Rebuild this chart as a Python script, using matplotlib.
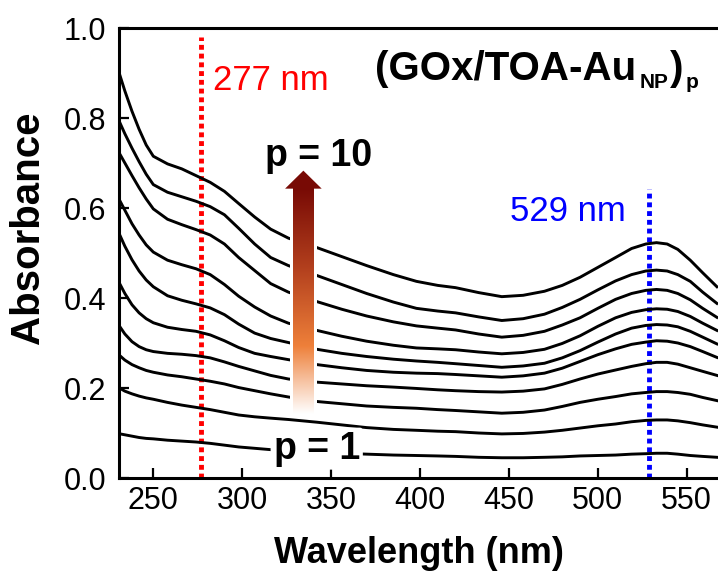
import numpy as np
import matplotlib.pyplot as plt
from matplotlib.colors import LinearSegmentedColormap
from matplotlib.patches import Rectangle, Polygon

plt.rcParams['font.family'] = 'Liberation Sans'

# UV-vis spectra of the (GOx/TOA-AuNP)p multilayers, p = 1 ... 10
wavelength = [230, 234, 238, 242, 246, 250, 258, 266, 274, 282, 290, 298, 307, 316, 326,
              342, 356, 370, 385, 398, 410, 420, 433, 446, 458, 470, 480, 490, 500, 510,
              519, 527, 533, 539, 545, 552, 559, 567]

p1 = [0.099, 0.096, 0.093, 0.090, 0.088, 0.087, 0.084, 0.082, 0.080, 0.077, 0.073, 0.069, 0.066, 0.063, 0.061,
      0.057, 0.055, 0.053, 0.051, 0.050, 0.049, 0.048, 0.046, 0.045, 0.045, 0.046, 0.047, 0.049, 0.050, 0.051,
      0.053, 0.054, 0.055, 0.055, 0.053, 0.050, 0.048, 0.046]
p2 = [0.202, 0.193, 0.187, 0.182, 0.178, 0.175, 0.168, 0.162, 0.157, 0.152, 0.146, 0.140, 0.136, 0.133, 0.130,
      0.124, 0.118, 0.112, 0.108, 0.106, 0.104, 0.103, 0.100, 0.098, 0.099, 0.102, 0.106, 0.111, 0.116, 0.120,
      0.125, 0.128, 0.129, 0.129, 0.127, 0.123, 0.118, 0.113]
p3 = [0.276, 0.262, 0.252, 0.245, 0.239, 0.235, 0.229, 0.225, 0.220, 0.215, 0.209, 0.201, 0.194, 0.187, 0.180,
      0.170, 0.165, 0.160, 0.157, 0.155, 0.152, 0.150, 0.147, 0.144, 0.146, 0.151, 0.159, 0.168, 0.175, 0.181,
      0.187, 0.190, 0.192, 0.192, 0.190, 0.186, 0.179, 0.172]
p4 = [0.343, 0.320, 0.303, 0.292, 0.285, 0.281, 0.277, 0.275, 0.272, 0.267, 0.258, 0.248, 0.238, 0.228, 0.220,
      0.213, 0.209, 0.205, 0.202, 0.199, 0.196, 0.194, 0.192, 0.191, 0.193, 0.198, 0.208, 0.220, 0.231, 0.240,
      0.248, 0.254, 0.257, 0.257, 0.253, 0.245, 0.237, 0.228]
p5 = [0.440, 0.410, 0.385, 0.367, 0.354, 0.345, 0.335, 0.330, 0.326, 0.318, 0.305, 0.290, 0.277, 0.270, 0.263,
      0.252, 0.245, 0.239, 0.235, 0.233, 0.232, 0.230, 0.227, 0.224, 0.227, 0.233, 0.244, 0.259, 0.274, 0.287,
      0.297, 0.302, 0.305, 0.304, 0.300, 0.292, 0.281, 0.268]
p6 = [0.550, 0.515, 0.485, 0.460, 0.440, 0.425, 0.405, 0.395, 0.387, 0.378, 0.363, 0.342, 0.322, 0.310, 0.301,
      0.286, 0.277, 0.270, 0.264, 0.260, 0.257, 0.254, 0.250, 0.246, 0.249, 0.255, 0.267, 0.283, 0.302, 0.320,
      0.333, 0.339, 0.341, 0.340, 0.336, 0.326, 0.313, 0.298]
p7 = [0.625, 0.595, 0.565, 0.540, 0.518, 0.502, 0.484, 0.474, 0.465, 0.452, 0.430, 0.404, 0.380, 0.360, 0.344,
      0.328, 0.315, 0.304, 0.295, 0.289, 0.287, 0.285, 0.280, 0.276, 0.279, 0.286, 0.299, 0.316, 0.337, 0.356,
      0.368, 0.374, 0.376, 0.375, 0.370, 0.359, 0.344, 0.328]
p8 = [0.728, 0.700, 0.672, 0.645, 0.620, 0.598, 0.575, 0.563, 0.552, 0.540, 0.520, 0.490, 0.461, 0.432, 0.413,
      0.392, 0.375, 0.360, 0.347, 0.338, 0.333, 0.329, 0.320, 0.313, 0.317, 0.326, 0.340, 0.356, 0.377, 0.397,
      0.410, 0.417, 0.419, 0.417, 0.410, 0.396, 0.377, 0.357]
p9 = [0.800, 0.765, 0.733, 0.703, 0.675, 0.652, 0.635, 0.625, 0.615, 0.603, 0.585, 0.555, 0.520, 0.490, 0.472,
      0.450, 0.430, 0.410, 0.391, 0.377, 0.371, 0.367, 0.358, 0.350, 0.354, 0.364, 0.379, 0.397, 0.418, 0.438,
      0.452, 0.460, 0.462, 0.460, 0.452, 0.437, 0.413, 0.388]
p10 = [0.910, 0.860, 0.815, 0.775, 0.740, 0.715, 0.698, 0.687, 0.672, 0.657, 0.637, 0.610, 0.580, 0.553, 0.533,
       0.512, 0.492, 0.472, 0.452, 0.437, 0.428, 0.423, 0.412, 0.403, 0.406, 0.415, 0.428, 0.446, 0.468, 0.490,
       0.510, 0.520, 0.523, 0.520, 0.508, 0.484, 0.456, 0.425]

spectra = [p1, p2, p3, p4, p5, p6, p7, p8, p9, p10]

# marker wavelengths (GOx protein band and Au plasmon band)
peak_gox = 277
peak_au = 529

xticks = [250, 300, 350, 400, 450, 500, 550]
yticks = [0.0, 0.2, 0.4, 0.6, 0.8, 1.0]

fig = plt.figure(figsize=(7.18, 5.72), dpi=100)
ax = fig.add_axes([119 / 718, 94 / 572, 599 / 718, 450 / 572])

for s in spectra:
    ax.plot(wavelength, s, color='black', lw=2.1, solid_joinstyle='round', zorder=2)

ax.axvline(peak_gox, ymin=0, ymax=0.98, color='#ff0000', lw=3.5, linestyle=(0, (1, 0.8)), zorder=1)
ax.axvline(peak_au, ymin=0, ymax=0.643, color='#0000ff', lw=3.5, linestyle=(0, (1, 0.8)), zorder=1)

ax.text(283.6, 0.863, '%d nm' % peak_gox, color='#ff0000', fontsize=25, ha='left', va='baseline')
ax.text(450.6, 0.572, '%d nm' % peak_au, color='#0000ff', fontsize=25, ha='left', va='baseline')

# growth arrow: white gap behind, gradient shaft, solid head
ax.add_patch(Rectangle((326.9, 0.14), 15.2, 0.505, facecolor='white', edgecolor='none', zorder=3))
arrow_cmap = LinearSegmentedColormap.from_list('grow', [
    (0.0, '#ffffff'), (0.12, '#f8cdb2'), (0.30, '#ee803a'),
    (0.64, '#b4411e'), (1.0, '#780a05')])
grad = np.linspace(0, 1, 256).reshape(-1, 1)
ax.imshow(grad, extent=[328.7, 340.0, 0.143, 0.645], origin='lower', cmap=arrow_cmap,
          aspect='auto', zorder=4, interpolation='bicubic')
ax.add_patch(Polygon([[324.1, 0.643], [344.7, 0.643], [334.4, 0.683]], closed=True,
                     facecolor='#780a05', edgecolor='none', zorder=4))

ax.text(312.7, 0.694, 'p = 10', fontsize=27, fontweight='bold', ha='left', va='baseline')
ax.text(341.9, 0.043, 'p = 1', fontsize=27, fontweight='bold', ha='center', va='baseline', zorder=5,
        bbox=dict(boxstyle='round,pad=0.08', facecolor='white', edgecolor='none'))

# sample label (GOx/TOA-Au_NP)_p built from pieces so the subscripts sit right
t1 = ax.text(0.427, 0.884, '(GOx/TOA-Au', transform=ax.transAxes, fontsize=29,
             fontweight='bold', ha='left', va='baseline')
t2 = ax.annotate('NP', xy=(1, 0), xycoords=t1, xytext=(3, -3), textcoords='offset points',
                 fontsize=15, fontweight='bold', ha='left', va='bottom')
t3 = ax.annotate(')', xy=(1, 0), xycoords=(t2, t1), xytext=(0.5, 0), textcoords='offset points',
                 fontsize=29, fontweight='bold', ha='left', va='bottom')
ax.annotate('p', xy=(1, 0), xycoords=(t3, t1), xytext=(2, -3), textcoords='offset points',
            fontsize=15, fontweight='bold', ha='left', va='bottom')

ax.set_xlim(230.7, 567.6)
ax.set_ylim(0, 1.0)
ax.set_xticks(xticks)
ax.set_yticks(yticks)
ax.set_yticklabels(['%.1f' % v for v in yticks])
ax.tick_params(axis='both', direction='in', length=7, width=1.6, labelsize=22)
ax.tick_params(axis='x', pad=6)
ax.tick_params(axis='y', pad=9)

for side in ['left', 'bottom', 'top']:
    ax.spines[side].set_linewidth(2.2)
ax.spines['right'].set_visible(False)

ax.text(0.5, -0.189, 'Wavelength (nm)', transform=ax.transAxes, fontsize=26,
        fontweight='bold', ha='center', va='baseline')
ax.text(-0.152, 0.556, 'Absorbance', transform=ax.transAxes, fontsize=29,
        fontweight='bold', ha='center', va='center', rotation=90)

fig.savefig('out.png', dpi=100)
